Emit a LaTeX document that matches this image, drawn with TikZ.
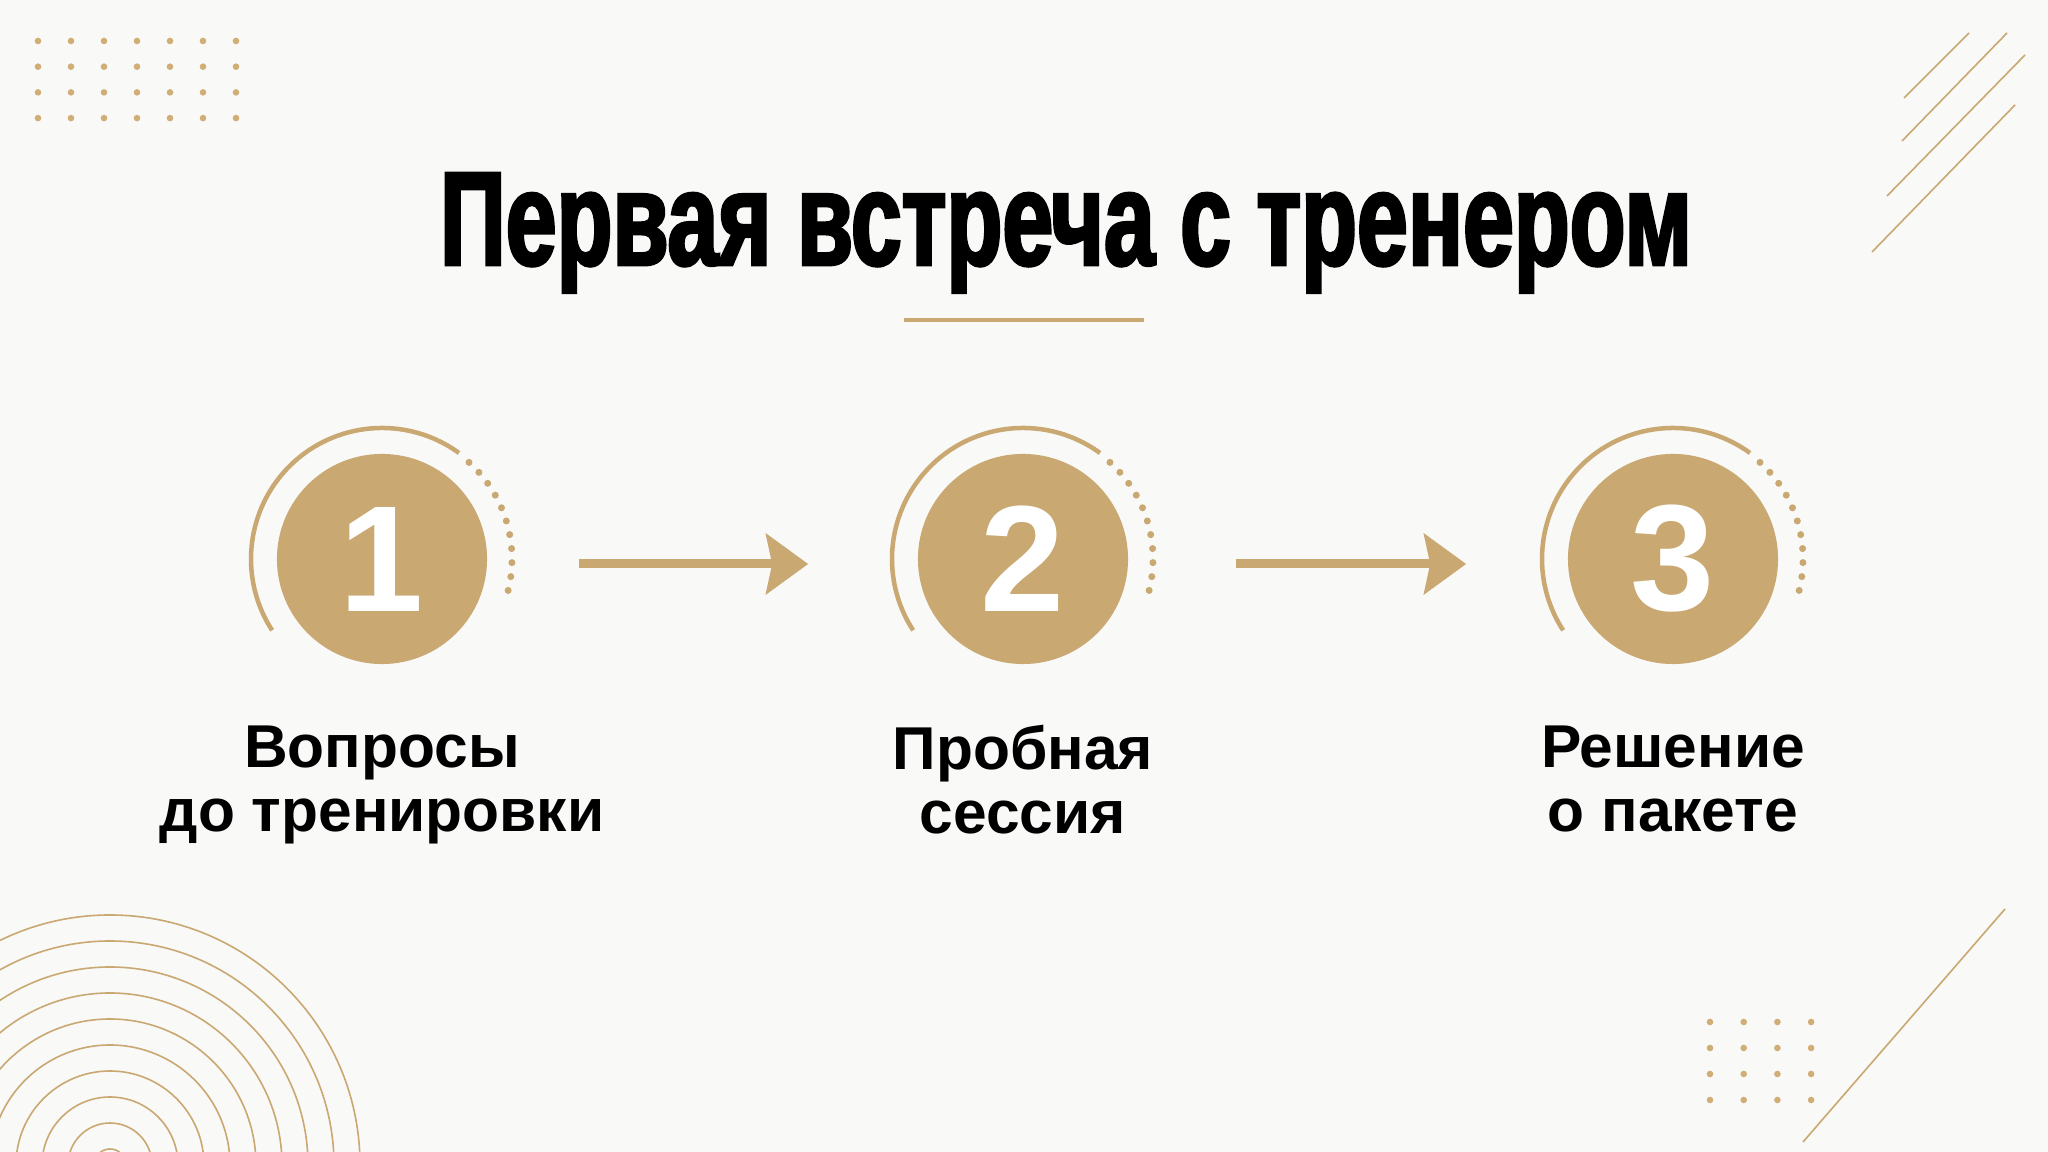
\documentclass[tikz,border=0pt]{standalone}
\usepackage{fontspec}
\setmainfont{Liberation Sans}
\newfontfamily\headfont[FakeStretch=0.684,FakeBold=2.2]{Liberation Sans Bold}
\usepackage{tikz}
\usetikzlibrary{arrows.meta,positioning,calc}
\definecolor{gold}{RGB}{201,168,114}
\definecolor{golddot}{RGB}{208,174,118}
\definecolor{paper}{RGB}{249,249,248}
\tikzset{stepcircle/.style={circle,fill=gold,draw=none,minimum size=2.1cm,inner sep=0pt,
                            text=white,font=\fontsize{43}{43}\selectfont\bfseries}}
\tikzset{steptext/.style={align=center,inner sep=0pt,text=black,
                          font=\fontsize{17.2}{18.2}\selectfont\bfseries}}

\begin{document}
\begin{tikzpicture}[x=0.01cm,y=0.01cm,
    % styles for clarity
    ring/.style  ={draw=gold, line width=0.045cm},
    thin/.style  ={draw=gold, line width=0.016cm},
    flow/.style  ={draw=gold, line width=0.09cm,
                   -{Stealth[length=4.2mm,width=6mm,inset=0.6mm]}},
    node distance = 0.6cm
  ]
    \fill[paper] (0,0) rectangle (2048,1152);
    \useasboundingbox (0,0) rectangle (2048,1152);

    % corner decoration
    \foreach \i in {0,...,6}
      \foreach \j in {0,...,3}
        \fill[golddot] (38+33*\i,1111-25.7*\j) circle (3.3);
    \foreach \i in {0,...,3}
      \foreach \j in {0,...,3}
        \fill[golddot] (1710+33.7*\i,130-26*\j) circle (3.3);
    \draw[thin] (1904,1054) -- (1969,1119);
    \draw[thin] (1902,1011) -- (2007,1119);
    \draw[thin] (1887,956) -- (2025,1097);
    \draw[thin] (1872,900) -- (2015,1047);
    \draw[thin] (1803,10) -- (2005,243);
    \begin{scope}
      \clip (0,0) rectangle (2048,1152);
      \foreach \k in {0,...,9}
        \draw[thin] (110,-13) circle (250-26*\k);
    \end{scope}

    % title
    \node[anchor=base,inner sep=0pt,font=\headfont\fontsize{38}{40}\selectfont] (title)
      at (1066,887) {Первая встреча с тренером};
    \coordinate (ulA) at (904,832);
    \coordinate (ulB) at (1144,832);
    \draw[gold,line width=0.034cm] (ulA) -- (ulB);

    % steps
    \node[stepcircle] (n1) at (382,593) {1};
    \node[stepcircle] (n2) at (1023,593) {2};
    \node[stepcircle] (n3) at (1673,593) {3};

    \foreach \n in {n1,n2,n3} {
      \draw[ring] ([shift={(54:131)}]\n.center) arc (54:213:131);
      \foreach \i in {0,...,10}
        \fill[gold] ([shift={(48-6.2*\i:130)}]\n.center) circle (3.5);
    }

    \draw[flow,shorten <=0.91cm,shorten >=1.09cm]
      ([yshift=-0.05cm]n1.east) -- ([yshift=-0.05cm]n2.west);
    \draw[flow,shorten <=1.07cm,shorten >=1.01cm]
      ([yshift=-0.05cm]n2.east) -- ([yshift=-0.05cm]n3.west);

    \node[steptext,below=of n1] (t1) {Вопросы\\до тренировки};
    \node[steptext,below=of n2] (t2) {Пробная\\сессия};
    \node[steptext,below=of n3] (t3) {Решение\\о пакете};
\end{tikzpicture}
\end{document}
